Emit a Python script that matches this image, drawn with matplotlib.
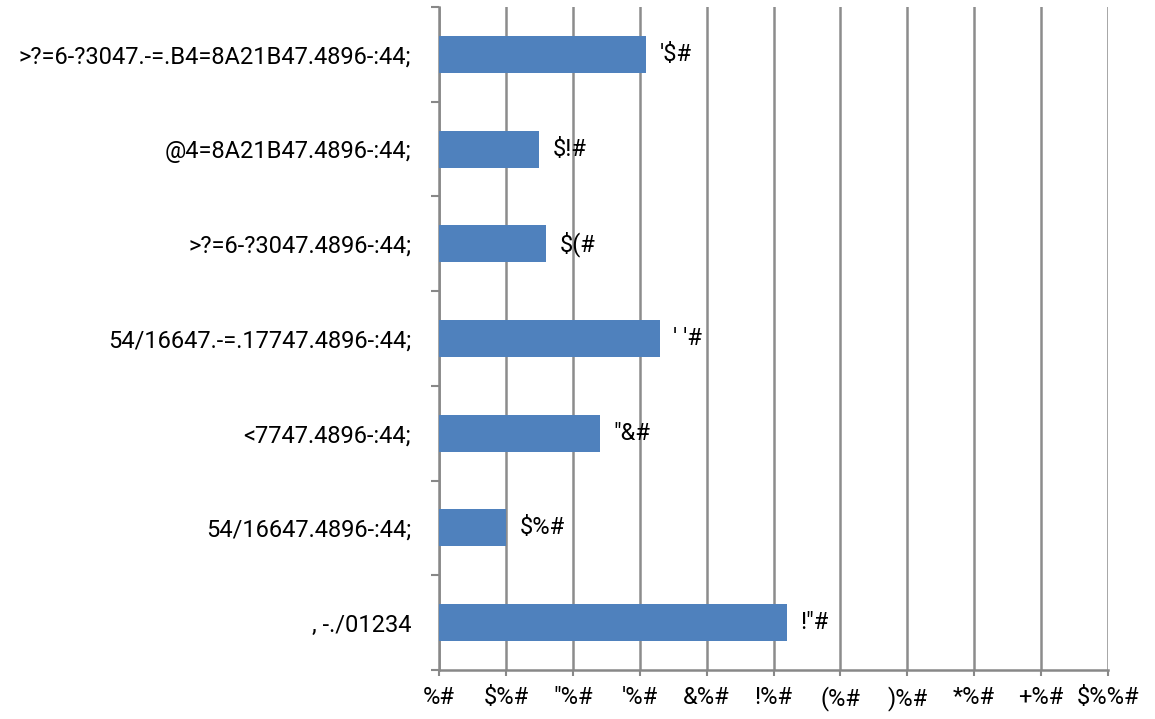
import matplotlib.pyplot as plt
from matplotlib import font_manager
import numpy as np

# text is kept exactly as it appears in the reference (glyph-mapped font)
categories = [
    '>?=6-?3047.-=.B4=8A21B47.4896-:44;',
    '@4=8A21B47.4896-:44;',
    '>?=6-?3047.4896-:44;',
    '54/16647.-=.17747.4896-:44;',
    '<7747.4896-:44;',
    '54/16647.4896-:44;',
    ', -./01234',
]
values = [31, 15, 16, 33, 24, 10, 52]
value_labels = ["'$#", '$!#', '$(#', "' '#", '"&#', '$%#', '!"#']
tick_values = [0, 10, 20, 30, 40, 50, 60, 70, 80, 90, 100]
tick_labels = ['%#', '$%#', '"%#', "'%#", '&%#', '!%#', '(%#', ')%#', '*%#', '+%#', '$%%#']

names = {f.name for f in font_manager.fontManager.ttflist}
family = 'Roboto' if 'Roboto' in names else 'Liberation Sans'
fsize = 17

plt.rcParams['font.family'] = [family, 'DejaVu Sans']

fig = plt.figure(figsize=(11.55, 7.19), dpi=100)
ax = fig.add_axes([439 / 1155, 1 - 670 / 719, (1108 - 439) / 1155, (670 - 7) / 719])

y = np.arange(len(categories))
ax.barh(y, values, height=0.39, color='#4F81BD', zorder=3)
for yi, v, lab in zip(y, values, value_labels):
    ax.text(v + 2.0, yi, lab, va='center', ha='left', fontsize=fsize, color='black', zorder=4)

ax.set_xlim(0, 100)
ax.set_ylim(len(categories) - 0.5, -0.5)
ax.set_xticks(tick_values)
ax.set_xticklabels(tick_labels, fontsize=fsize)
ax.set_yticks(y)
ax.set_yticklabels(categories, fontsize=fsize)

# category boundary ticks on the left spine
ax.set_yticks(np.arange(-0.5, len(categories), 1.0), minor=True)
ax.tick_params(axis='y', which='major', length=0, pad=20)
ax.tick_params(axis='y', which='minor', length=6, width=1.5, color='#888888', direction='out')
ax.tick_params(axis='x', which='major', length=4.5, width=1.5, color='#888888', pad=7)

ax.xaxis.grid(True, color='#8c8c8c', linewidth=1.8, zorder=0)
ax.set_axisbelow(True)
for side in ['top', 'right']:
    ax.spines[side].set_visible(False)
for side in ['left', 'bottom']:
    ax.spines[side].set_color('#888888')
    ax.spines[side].set_linewidth(1.8)

plt.savefig('out.png', dpi=100)
